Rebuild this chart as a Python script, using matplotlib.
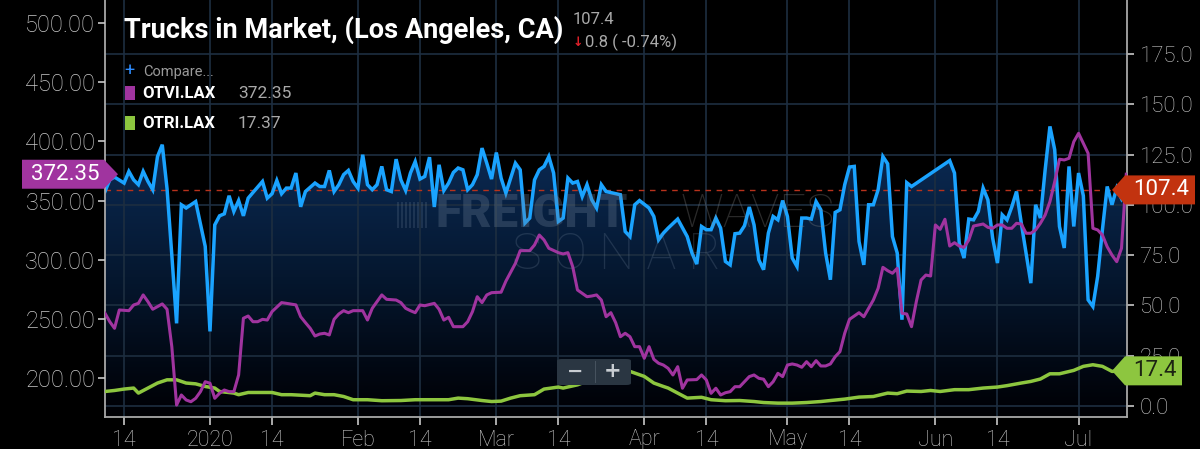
import numpy as np
import pandas as pd
import matplotlib
matplotlib.use('Agg')
import matplotlib.pyplot as plt
import matplotlib.dates as mdates
from matplotlib.patches import Polygon, Rectangle, FancyBboxPatch
from matplotlib.colors import LinearSegmentedColormap
from matplotlib.ticker import FuncFormatter, FixedLocator

# ---------------- data ----------------
START = '2019-12-10'

trucks_days = [0, 1, 2, 4, 5, 6, 7, 8, 9, 10, 11, 12, 13, 14, 15, 16, 17, 19, 21, 22, 23, 24, 25, 26, 27,
               28, 29, 30, 31, 33, 34, 35, 36, 37, 38, 39, 40, 41, 42, 44, 45, 46, 47, 48, 49, 50, 51, 52,
               53, 54, 55, 56, 57, 58, 59, 60, 61, 62, 63, 64, 65, 66, 67, 68, 69, 70, 71, 72, 73, 74, 75,
               76, 77, 78, 79, 80, 81, 82, 83, 84, 86, 87, 88, 89, 90, 91, 92, 93, 94, 95, 96, 97, 98, 99,
               100, 101, 102, 103, 104, 105, 107, 108, 109, 110, 111, 112, 114, 115, 116, 117, 118, 120,
               122, 123, 124, 125, 126, 127, 128, 129, 130, 131, 132, 133, 134, 135, 136, 137, 138, 139,
               140, 141, 142, 143, 144, 145, 146, 147, 148, 149, 150, 151, 152, 153, 154, 155, 156, 157,
               158, 159, 160, 161, 162, 163, 164, 165, 166, 167, 168, 169, 177, 178, 179, 180, 181, 182,
               183, 184, 185, 186, 187, 188, 189, 190, 191, 192, 193, 194, 195, 196, 197, 198, 199, 200,
               201, 202, 203, 204, 205, 206, 207, 208, 209, 210, 211, 212, 213, 214]
trucks_vals = [106.6, 112.4, 113.8, 110.8, 116.6, 112.4, 110, 116.6, 111.6, 107.5, 124, 129.9, 108, 75, 41,
               100, 98.4, 101.6, 79.3, 37, 90, 94.5, 95.5, 104.5, 96.7, 102.1, 94.5, 103.3, 106.1, 111.6,
               103.3, 105.5, 112.1, 105.5, 108.3, 108.3, 115.8, 99, 106.6, 110.8, 109.1, 109.1, 117.1,
               106.6, 110, 115, 117.1, 111.6, 108.3, 124.9, 110, 107.5, 110, 119.1, 107.5, 106.6, 122.7,
               112.4, 107.1, 115.8, 121.5, 112.8, 114.1, 123.7, 98.9, 119.9, 107.1, 110.8, 116.1, 118.3,
               117.4, 107.5, 110, 115, 128.2, 120.7, 112.8, 126, 113.3, 105.8, 120.7, 117.4, 90.9, 93.4,
               112.4, 117.4, 119.1, 124, 115.8, 91.7, 93.4, 113.3, 110.8, 111.6, 104.1, 110, 102.5, 98.4,
               110, 106.6, 105.5, 105, 86.7, 84.2, 100, 102.1, 98.4, 94.2, 82.6, 85.9, 88.4, 92.9, 84.2,
               76, 70.5, 89.2, 87.6, 87.6, 93.4, 88.4, 71.8, 70.1, 85.6, 85.9, 89.6, 98.9, 90, 72.6, 67.7,
               85.9, 94.2, 92.5, 102.1, 94.2, 73.5, 69.3, 93.4, 93.4, 92.9, 101.6, 97.5, 76, 62.7, 96.2,
               97.5, 110, 118.8, 119.1, 81.7, 70.1, 100, 100, 107.5, 124, 120.4, 84.2, 76, 42.8, 111,
               109.1, 122, 115.8, 80.9, 73.5, 92.9, 92.5, 96.7, 108.3, 102.5, 83.4, 71, 95, 92.5, 98.9,
               106.6, 90.9, 76, 61, 100, 93.4, 117.4, 139, 127.4, 89.2, 78.5, 119.1, 89.2, 115.8, 104.5,
               52.7, 49.4, 64.3, 87.6, 109.1, 100, 108.3, 103, 107.4]

otvi_days = [0, 1, 2, 3, 5, 6, 7, 8, 9, 10, 11, 12, 13, 14, 15, 16, 17, 18, 19, 20, 21, 22, 23, 24, 25, 26,
             27, 28, 29, 30, 31, 32, 33, 34, 35, 37, 38, 40, 41, 42, 43, 44, 45, 46, 47, 48, 49, 50, 51,
             52, 54, 55, 56, 58, 59, 61, 62, 63, 64, 65, 66, 67, 69, 70, 71, 72, 73, 75, 76, 77, 78, 79,
             80, 81, 83, 84, 86, 87, 88, 89, 90, 91, 92, 93, 95, 96, 97, 98, 99, 100, 101, 102, 103, 104,
             105, 106, 107, 108, 109, 110, 111, 112, 113, 114, 115, 116, 117, 118, 119, 120, 121, 122,
             124, 125, 126, 127, 128, 129, 130, 131, 132, 133, 134, 135, 136, 137, 138, 139, 140, 141,
             142, 143, 144, 145, 146, 147, 148, 149, 150, 151, 152, 153, 154, 155, 156, 157, 158, 159,
             160, 161, 162, 163, 164, 165, 166, 167, 168, 169, 170, 171, 172, 173, 174, 175, 176, 177,
             178, 179, 180, 181, 182, 184, 185, 186, 187, 188, 189, 190, 191, 192, 193, 194, 195, 196,
             197, 198, 199, 200, 201, 202, 203, 204, 205, 206, 207, 208, 209, 210, 211, 212, 213, 214]
otvi_vals = [254.9, 247.8, 242.2, 257.7, 257.1, 261.9, 263.3, 270.4, 264.7, 258.3, 260.5, 262.8, 258.3,
             226.7, 177.4, 185.9, 181.7, 180.2, 183.1, 188.7, 197.1, 195.8, 183.1, 187.3, 190.1, 188.7,
             188.7, 202.8, 250.7, 252.6, 247.8, 247.8, 249.8, 249.2, 256.3, 263.9, 263.3, 262, 252, 247,
             242.2, 235.7, 237.4, 238, 236.6, 249.8, 254.3, 257.1, 255.4, 257.1, 257.1, 249.2, 259.1,
             270.4, 266.7, 266.1, 263.9, 259.1, 257.1, 255.4, 261.9, 261.3, 263.3, 258.3, 249.2, 251.5,
             243.6, 243.6, 247.8, 256.3, 268.9, 263.9, 270.4, 272.3, 272.7, 282, 297.1, 307.8, 307.8,
             307.8, 312.6, 321, 316.8, 309.8, 306.1, 305, 306.1, 294.3, 274.6, 271.8, 268.9, 269.5,
             270.4, 266.1, 252, 255.4, 247, 235.1, 238, 235.1, 226.7, 226.7, 216.9, 226.7, 216, 212.7,
             211.2, 208.4, 202.8, 209.8, 191.6, 198.6, 198.9, 202.8, 198.6, 187.3, 191.6, 185.9, 187.8,
             188.7, 192.9, 192.9, 197.1, 201.4, 202.8, 200, 199.2, 192.9, 197.1, 204.2, 201.4, 211.2,
             212.1, 211.2, 209.3, 214, 209.8, 214.9, 210.4, 210.4, 212.1, 218.2, 222.5, 238, 249.8,
             252.6, 255.4, 252, 259.1, 266.1, 276, 293.7, 290.9, 288.7, 292.9, 254.9, 254.3, 243.6,
             264.7, 283, 287.2, 286.4, 329.5, 325.8, 334.3, 311.7, 314.5, 311.7, 310.6, 316.8, 328.6,
             330.3, 327.5, 326.7, 329.5, 329.5, 326.7, 326.7, 330.9, 330.3, 322.5, 322.5, 325.3, 330.9,
             337.9, 349.2, 366, 385, 384.4, 385.8, 399.8, 406.9, 398.5, 390, 326.7, 325.3, 321, 311.1,
             304.1, 298.5, 309.8, 372.35]

otri_days = [0, 2, 4, 6, 7, 9, 11, 13, 15, 17, 19, 21, 23, 24, 27, 28, 30, 32, 35, 37, 39, 43, 44, 46, 48,
             50, 52, 55, 58, 62, 65, 69, 72, 74, 76, 79, 81, 83, 85, 87, 90, 92, 95, 96, 99, 100, 104,
             107, 110, 113, 115, 117, 118, 120, 122, 125, 127, 130, 133, 136, 138, 141, 144, 147, 150,
             152, 155, 158, 161, 164, 166, 168, 171, 173, 175, 178, 181, 184, 187, 189, 192, 194, 196,
             198, 200, 203, 205, 207, 209, 211, 214]
otri_vals = [7.1, 7.6, 8.3, 8.8, 6.3, 8.8, 11.3, 12.9, 12.9, 11.3, 10.9, 9.6, 8.8, 7.1, 6.3, 5.5, 6.6, 6.6,
             6.6, 5.5, 5.5, 5.0, 6.3, 5.5, 5.5, 4.6, 3.0, 3.0, 2.5, 2.6, 3.0, 3.0, 3.0, 3.8, 3.5, 2.6, 2.1,
             2.3, 3.8, 5.0, 5.5, 8.3, 9.3, 8.8, 10.4, 11.3, 15.0, 18.0, 17.1, 14.6, 11.3, 9.6, 8.8, 6.3,
             3.8, 4.2, 3.0, 2.5, 2.6, 2.1, 1.6, 1.3, 1.3, 1.6, 2.1, 2.6, 3.3, 4.3, 4.6, 6.3, 6.0, 7.3, 7.1,
             7.6, 7.1, 8.0, 8.0, 8.8, 9.3, 10.0, 11.3, 12.1, 13.3, 15.9, 15.9, 17.6, 19.6, 20.4, 19.6,
             17.1, 17.37]

tick_dates = ['2019-12-14', '2020-01-01', '2020-01-14', '2020-02-01', '2020-02-14', '2020-03-01',
              '2020-03-14', '2020-04-01', '2020-04-14', '2020-05-01', '2020-05-14', '2020-06-01',
              '2020-06-14', '2020-07-01']
tick_labels = ['14', '2020', '14', 'Feb', '14', 'Mar', '14', 'Apr', '14', 'May', '14', 'Jun', '14', 'Jul']
left_ticks = [200, 250, 300, 350, 400, 450, 500]
right_ticks = [0, 25, 50, 75, 100, 125, 150, 175]

title = 'Trucks in Market, (Los Angeles, CA)'
last_main = '107.4'
change_text = '0.8 ( -0.74%)'
otvi_name, otvi_last = 'OTVI.LAX', '372.35'
otri_name, otri_last = 'OTRI.LAX', '17.37'

# ---------------- style ----------------
plt.rcParams['font.family'] = ['Roboto', 'DejaVu Sans']
BLUE = '#1aa3ff'
PURPLE = '#a0349f'
GREEN = '#8dc63f'
TICK = '#c8c8c8'
GRID = '#1d2e40'
W, H = 1200, 449

start = pd.Timestamp(START)
to_dates = lambda d: (start + pd.to_timedelta(d, unit='D')).to_pydatetime()
tx = to_dates(trucks_days)
vx = to_dates(otvi_days)
rx = to_dates(otri_days)

fig = plt.figure(figsize=(12, 4.49), dpi=100, facecolor='black')
ax = fig.add_axes([105 / W, 32 / H, 1022 / W, 417 / H])
ax.set_facecolor('black')
ax2 = ax.twinx()
ax.yaxis.tick_right()
ax2.yaxis.tick_left()

x0 = mdates.date2num(start)
x1 = mdates.date2num(start + pd.Timedelta(days=214.15))
ax.set_xlim(x0, x1)
ax.set_ylim(-5.6, 201.9)
ax2.set_ylim(167.3, 519.5)

# gradient area under the main series
cmap = LinearSegmentedColormap.from_list('g', ['#000004', '#05172f', '#0b2b55', '#0f3768'])
grad = np.linspace(1, 0, 300).reshape(-1, 1)
im = ax.imshow(grad, extent=[x0, x1, -5.6, 201.9], aspect='auto', cmap=cmap, zorder=0.1,
               interpolation='bilinear')
poly = ax.fill_between(tx, trucks_vals, -5.6, facecolor='none', edgecolor='none', zorder=0.1)
im.set_clip_path(poly.get_paths()[0], ax.transData)
ax.set_xlim(x0, x1)
ax.set_ylim(-5.6, 201.9)

ax.set_axisbelow(True)
ax.grid(True, color=GRID, linewidth=1.2)

ax.axhline(107.4, color='#b8321c', linestyle=(0, (4, 4)), linewidth=1.0, zorder=1.5)
ax.plot(tx, trucks_vals, color=BLUE, linewidth=2.5, zorder=2, solid_joinstyle='miter')
ax.plot(rx, otri_vals, color=GREEN, linewidth=2.5, zorder=3)
ax2.plot(vx, otvi_vals, color=PURPLE, linewidth=2.2, zorder=3)

# axes / ticks
ax.xaxis.set_major_locator(FixedLocator(mdates.date2num(pd.to_datetime(tick_dates))))
ax.set_xticklabels(tick_labels)
ax.yaxis.set_major_locator(FixedLocator(right_ticks))
ax.yaxis.set_major_formatter(FuncFormatter(lambda v, p: f'{v:.1f}'))
ax2.yaxis.set_major_locator(FixedLocator(left_ticks))
ax2.yaxis.set_major_formatter(FuncFormatter(lambda v, p: f'{v:.2f}'))
ax.tick_params(axis='x', colors=TICK, labelsize=15.5, length=6, width=1.2, pad=3, direction='out')
ax.tick_params(axis='y', colors=TICK, labelsize=16, length=5, width=1.2, pad=4,
               right=True, left=False, labelright=True, labelleft=False)
ax2.tick_params(axis='y', colors=TICK, labelsize=17, length=5, width=1.2, pad=2,
                left=True, right=False, labelleft=True, labelright=False)
for lbl in ax.get_xticklabels() + ax.get_yticklabels() + ax2.get_yticklabels():
    lbl.set_fontweight('light')
for s in ['left', 'right', 'bottom']:
    ax.spines[s].set_color('#a8a8a8')
    ax.spines[s].set_linewidth(1.3)
ax.spines['top'].set_visible(False)
for s in ax2.spines.values():
    s.set_visible(False)

# ---------------- overlays ----------------
def fp(x, y_bottom):
    return (x / W, y_bottom / H)

def ftop(x, y_top):
    return (x / W, 1 - y_top / H)

# watermark
for i in range(8):
    fig.add_artist(Rectangle(ftop(397 + i * 4, 228), 2 / W, 26 / H, transform=fig.transFigure,
                             facecolor='#6f8299', alpha=0.22, edgecolor='none', zorder=1))
fig.text(*ftop(436, 214), 'FREIGHT', fontsize=34, fontweight='black', color='#6f8299',
         alpha=0.30, ha='left', va='center', zorder=1)
fig.text(*ftop(835, 214), 'WAVES', fontsize=34, fontweight='light', color='#8a8a8a',
         alpha=0.30, ha='right', va='center', zorder=1)
fig.text(*ftop(616, 255), 'S O N A R', fontsize=36, fontweight='light', color='#6f8299',
         alpha=0.25, ha='center', va='center', zorder=1)

# title block
fig.text(*ftop(124, 30), title, fontsize=19.5, fontweight='bold', color='white',
         ha='left', va='center')
fig.text(*ftop(573, 20), last_main, fontsize=12, color='#a9a9a9', ha='left', va='center')
fig.text(*ftop(573, 43), '\u2193', fontsize=9, fontweight='bold', color='#e0202a',
         ha='left', va='center', family=['DejaVu Sans'])
fig.text(*ftop(585, 42), change_text, fontsize=12, color='#a9a9a9', ha='left', va='center')

# compare legend
fig.text(*ftop(124, 71), '+', fontsize=13, color='#2d8cff', ha='left', va='center')
fig.text(*ftop(143, 72), 'Compare...', fontsize=10.5, color='#9a9a9a', ha='left', va='center')
fig.add_artist(Rectangle(ftop(125, 100), 10 / W, 14 / H, transform=fig.transFigure,
                         facecolor=PURPLE, edgecolor='none'))
fig.text(*ftop(142, 93), otvi_name, fontsize=12, fontweight='bold', color='white',
         ha='left', va='center')
fig.text(*ftop(238, 93), otvi_last, fontsize=12.5, color='#a9a9a9', ha='left', va='center')
fig.add_artist(Rectangle(ftop(125, 130), 10 / W, 14 / H, transform=fig.transFigure,
                         facecolor=GREEN, edgecolor='none'))
fig.text(*ftop(142, 123), otri_name, fontsize=12, fontweight='bold', color='white',
         ha='left', va='center')
fig.text(*ftop(238, 123), otri_last, fontsize=12.5, color='#a9a9a9', ha='left', va='center')

# zoom buttons
fig.add_artist(FancyBboxPatch(ftop(557, 385), 74 / W, 26 / H, boxstyle='round,pad=0,rounding_size=0.004',
                              transform=fig.transFigure, facecolor='#2a3642', edgecolor='none', zorder=5))
fig.add_artist(Rectangle(ftop(595, 383), 1.2 / W, 22 / H, transform=fig.transFigure,
                         facecolor='#46525e', edgecolor='none', zorder=6))
fig.text(*ftop(575, 371), '\u2212', fontsize=14, fontweight='bold', color='#c8cdd2',
         ha='center', va='center', zorder=7, family=['DejaVu Sans'])
fig.text(*ftop(613, 371), '+', fontsize=15, fontweight='bold', color='#c8cdd2',
         ha='center', va='center', zorder=7, family=['DejaVu Sans'])

# value tags
fig.canvas.draw()

def tag(yb, tip_x, rect_x0, rect_x1, color, text, tcolor, point_right):
    h = 14.5
    if point_right:
        pts = [(rect_x0, yb - h), (rect_x1, yb - h), (tip_x, yb), (rect_x1, yb + h), (rect_x0, yb + h)]
        tx_ = (rect_x0 + rect_x1) / 2 + 2
    else:
        pts = [(rect_x1, yb - h), (rect_x0, yb - h), (tip_x, yb), (rect_x0, yb + h), (rect_x1, yb + h)]
        tx_ = (rect_x0 + rect_x1) / 2 + 1
    fig.add_artist(Polygon([fp(*p) for p in pts], closed=True, transform=fig.transFigure,
                           facecolor=color, edgecolor='none', zorder=8))
    fig.text(*fp(tx_, yb), text, fontsize=16, color=tcolor, ha='center', va='center', zorder=9)

y_otvi = ax2.transData.transform((x0, float(otvi_last)))[1]
y_main = ax.transData.transform((x0, float(last_main)))[1]
y_otri = ax.transData.transform((x0, otri_vals[-1]))[1]
tag(y_otvi, 118, 22, 104, PURPLE, otvi_last, 'white', True)
tag(y_main, 1112, 1125, 1195, '#c2330f', last_main, 'white', False)
tag(y_otri, 1112, 1125, 1182, GREEN, '17.4', '#1c2412', False)

fig.savefig('out.png', dpi=100, facecolor='black')
